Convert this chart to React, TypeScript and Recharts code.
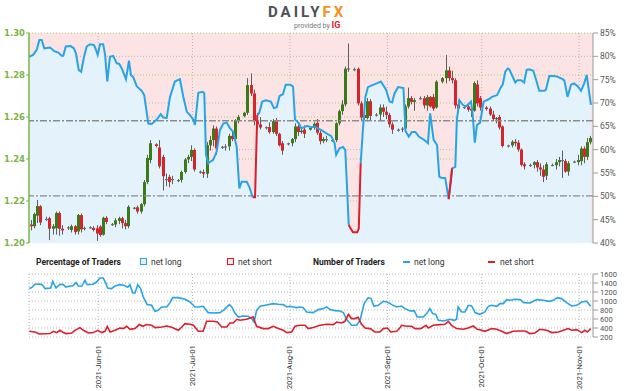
import React from 'react';
import { Area, Bar, CartesianGrid, ComposedChart, Line, ReferenceLine, XAxis, YAxis } from 'recharts';

const FONT = 'Roboto, "DejaVu Sans", sans-serif';

// day 0 = 2021-05-10
const monthDays = [22, 52, 83, 114, 144, 175];
const monthLabels = ['2021-Jun-01', '2021-Jul-01', '2021-Aug-01', '2021-Sep-01', '2021-Oct-01', '2021-Nov-01'];

const priceTicks = [1.2, 1.22, 1.24, 1.26, 1.28, 1.3];
const pctTicks = [40, 45, 50, 55, 60, 65, 70, 75, 80, 85];
const pctGrid = [50, 60, 70, 80];
const traderTicks = [200, 400, 600, 800, 1000, 1200, 1400, 1600];
const levelLines = [66.2, 50.1];

// daily candles, Sun-Fri (Saturday has none): open, high, low, close
const candles: [number, number, number, number][] = [
  [1.2125, 1.2135, 1.208, 1.2088], [1.2088, 1.211, 1.206, 1.208], [1.208, 1.2145, 1.207, 1.2138], [1.213, 1.2205, 1.2095, 1.2176], [1.2175, 1.218, 1.2085, 1.2098],
  [1.2115, 1.2125, 1.2105, 1.2112], [1.2118, 1.2125, 1.2014, 1.2068], [1.2068, 1.209, 1.204, 1.208], [1.207, 1.215, 1.204, 1.2143], [1.2143, 1.215, 1.2035, 1.2068], [1.2068, 1.2085, 1.204, 1.206],
  [1.207, 1.208, 1.2062, 1.2075], [1.2062, 1.2088, 1.205, 1.208], [1.208, 1.2085, 1.204, 1.2052], [1.2055, 1.2138, 1.204, 1.2133], [1.2133, 1.214, 1.205, 1.2065], [1.2068, 1.2078, 1.206, 1.2072],
  [1.2075, 1.208, 1.2068, 1.2072], [1.2072, 1.208, 1.2055, 1.2062], [1.207, 1.2085, 1.201, 1.2045], [1.2078, 1.2085, 1.203, 1.2038], [1.204, 1.2125, 1.2035, 1.212], [1.212, 1.2128, 1.209, 1.21],
  [1.209, 1.2095, 1.2082, 1.2088], [1.2088, 1.2118, 1.2075, 1.2108], [1.2105, 1.2125, 1.209, 1.2118], [1.2118, 1.2125, 1.207, 1.2095], [1.2095, 1.211, 1.2065, 1.208], [1.208, 1.218, 1.207, 1.2172],
  [1.2168, 1.2172, 1.216, 1.2165], [1.217, 1.2178, 1.214, 1.215], [1.215, 1.219, 1.214, 1.2185], [1.2185, 1.23, 1.2175, 1.229], [1.229, 1.242, 1.228, 1.2405], [1.2395, 1.249, 1.238, 1.2475],
  [1.247, 1.2475, 1.2455, 1.2462], [1.2455, 1.249, 1.2355, 1.2365], [1.241, 1.242, 1.225, 1.2318], [1.23, 1.233, 1.227, 1.2305], [1.2315, 1.2325, 1.2265, 1.229], [1.23, 1.232, 1.228, 1.2305],
  [1.2295, 1.2305, 1.229, 1.23], [1.23, 1.2345, 1.2288, 1.2338], [1.2338, 1.2405, 1.233, 1.2398], [1.2398, 1.242, 1.238, 1.241], [1.241, 1.2465, 1.239, 1.2443], [1.2443, 1.245, 1.234, 1.235],
  [1.234, 1.2345, 1.233, 1.2338], [1.2338, 1.235, 1.231, 1.233], [1.233, 1.248, 1.231, 1.2465], [1.2465, 1.251, 1.244, 1.249], [1.249, 1.256, 1.246, 1.2545], [1.2545, 1.2555, 1.242, 1.245],
  [1.2455, 1.2462, 1.2448, 1.2458], [1.2455, 1.247, 1.244, 1.246], [1.246, 1.252, 1.244, 1.251], [1.251, 1.253, 1.2485, 1.2495], [1.2495, 1.259, 1.248, 1.2585], [1.2585, 1.261, 1.257, 1.26],
  [1.2605, 1.2625, 1.2598, 1.262], [1.262, 1.2785, 1.261, 1.2752], [1.2752, 1.2808, 1.27, 1.2712], [1.2712, 1.273, 1.256, 1.258], [1.258, 1.262, 1.254, 1.2565], [1.2565, 1.26, 1.254, 1.255],
  [1.2548, 1.2555, 1.254, 1.2552], [1.2552, 1.2575, 1.252, 1.2528], [1.2528, 1.259, 1.252, 1.258], [1.258, 1.2595, 1.251, 1.252], [1.252, 1.2525, 1.246, 1.2465], [1.2475, 1.2485, 1.242, 1.244],
  [1.247, 1.2478, 1.2465, 1.2475], [1.2475, 1.25, 1.246, 1.2495], [1.2495, 1.257, 1.248, 1.2555], [1.2555, 1.2565, 1.251, 1.2528], [1.2528, 1.2545, 1.252, 1.2535], [1.254, 1.256, 1.25, 1.252],
  [1.254, 1.2555, 1.2535, 1.2548], [1.2548, 1.2575, 1.254, 1.2568], [1.2572, 1.259, 1.2515, 1.2525], [1.2525, 1.2535, 1.247, 1.2485], [1.2485, 1.2505, 1.2475, 1.2495], [1.2495, 1.251, 1.248, 1.249],
  [1.2488, 1.2495, 1.2482, 1.249], [1.249, 1.2575, 1.248, 1.257], [1.257, 1.2635, 1.256, 1.2628], [1.2628, 1.268, 1.261, 1.266], [1.266, 1.284, 1.265, 1.283], [1.2832, 1.295, 1.2815, 1.2828],
  [1.2828, 1.2835, 1.2818, 1.2825], [1.283, 1.2835, 1.2655, 1.2665], [1.2665, 1.2675, 1.2585, 1.2598], [1.261, 1.2625, 1.2585, 1.2595], [1.2595, 1.269, 1.2588, 1.2675], [1.2675, 1.2685, 1.2585, 1.2605],
  [1.261, 1.2618, 1.2602, 1.2612], [1.2612, 1.266, 1.258, 1.2645], [1.2645, 1.266, 1.26, 1.2625], [1.2625, 1.265, 1.259, 1.261], [1.261, 1.262, 1.255, 1.2565], [1.2565, 1.2575, 1.252, 1.254],
  [1.2535, 1.2545, 1.253, 1.254], [1.254, 1.2552, 1.2528, 1.2545], [1.2545, 1.266, 1.2535, 1.265], [1.265, 1.274, 1.264, 1.269], [1.269, 1.27, 1.266, 1.2672], [1.2672, 1.269, 1.263, 1.268],
  [1.269, 1.2698, 1.2682, 1.2688], [1.269, 1.27, 1.264, 1.2655], [1.2655, 1.2705, 1.263, 1.2695], [1.2695, 1.27, 1.2645, 1.265], [1.2695, 1.271, 1.263, 1.264], [1.2645, 1.2775, 1.264, 1.2768],
  [1.2768, 1.279, 1.276, 1.2785], [1.2785, 1.2896, 1.276, 1.2822], [1.2822, 1.284, 1.277, 1.2785], [1.2785, 1.282, 1.276, 1.2775], [1.2775, 1.2785, 1.264, 1.2655], [1.266, 1.268, 1.262, 1.264],
  [1.2645, 1.2652, 1.2638, 1.2648], [1.265, 1.266, 1.2625, 1.2635], [1.264, 1.2665, 1.26, 1.263], [1.263, 1.277, 1.2625, 1.2762], [1.2755, 1.2775, 1.265, 1.2665], [1.269, 1.27, 1.263, 1.2645],
  [1.2645, 1.2652, 1.263, 1.2638], [1.264, 1.265, 1.2605, 1.2612], [1.2612, 1.263, 1.258, 1.259], [1.259, 1.26, 1.257, 1.2595], [1.26, 1.261, 1.254, 1.255], [1.2555, 1.256, 1.2455, 1.2462],
  [1.246, 1.2468, 1.2455, 1.2465], [1.2465, 1.249, 1.2455, 1.2482], [1.2482, 1.2495, 1.246, 1.2475], [1.2478, 1.249, 1.2435, 1.2445], [1.2445, 1.245, 1.2365, 1.2372], [1.2375, 1.2385, 1.235, 1.2365],
  [1.237, 1.2378, 1.2362, 1.2372], [1.2372, 1.239, 1.2355, 1.2385], [1.2385, 1.2395, 1.234, 1.236], [1.236, 1.238, 1.232, 1.235], [1.235, 1.237, 1.229, 1.2315], [1.232, 1.2385, 1.23, 1.2375],
  [1.2372, 1.2378, 1.2365, 1.237], [1.237, 1.24, 1.235, 1.2385], [1.2385, 1.241, 1.2365, 1.2395], [1.2395, 1.244, 1.231, 1.239], [1.239, 1.24, 1.2335, 1.234], [1.234, 1.239, 1.232, 1.238],
  [1.2385, 1.2392, 1.238, 1.2388], [1.2385, 1.242, 1.237, 1.2395], [1.239, 1.246, 1.237, 1.245], [1.245, 1.246, 1.238, 1.241], [1.241, 1.25, 1.2395, 1.248], [1.248, 1.251, 1.247, 1.25],
];

// % of traders net long: [day, percent]
const sentiment: [number, number][] = [
  [0, 79.9], [1.3, 80.3], [2.45, 81.4], [3.3, 83.5], [4.05, 83.5], [4.85, 81.7], [5.6, 81.8], [6.7, 81.9], [8.05, 81.1], [9.3, 80.8],
  [10.4, 80.1], [10.9, 80.1], [11.7, 82.1], [13.25, 82.2], [14.3, 81.7], [14.95, 80.6], [15.8, 77.1], [16.6, 76.7], [17.5, 79.9], [18.35, 82.1],
  [19.4, 82.6], [20.7, 82.4], [21.3, 81.4], [21.85, 80.3], [22.6, 82.6], [23.6, 82.6], [24.2, 80.3], [24.9, 74.6], [25.75, 79.9], [26.8, 80.1],
  [27.9, 78.5], [28.7, 78.4], [29.5, 77.4], [30.85, 75.1], [31.8, 79.1], [32.4, 76.0], [33.2, 75.5], [34.25, 73.6], [35.85, 72.6], [36.65, 71.7],
  [37.95, 65.6], [39.0, 65.5], [40.6, 66.4], [41.9, 67.6], [42.7, 66.9], [43.8, 66.8], [44.85, 71.3], [46.4, 74.6], [48.0, 75.1], [49.1, 71.3],
  [50.2, 68.1], [51.2, 67.4], [52.3, 66.4], [52.8, 65.3], [53.85, 72.2], [55.25, 72.4], [55.75, 72.1], [56.3, 58.9], [57.0, 57.1], [58.6, 57.8],
  [59.7, 59.6], [60.75, 64.2], [61.8, 65.6], [62.9, 65.8], [63.9, 64.6], [65.0, 63.8], [66.05, 60.6], [66.9, 51.7], [67.65, 53.1], [69.25, 53.1],
  [70.05, 52.1], [71.15, 49.8], [71.9, 49.8], [72.6, 67.4], [73.2, 67.8], [74.2, 70.3], [75.3, 70.6], [76.9, 70.3], [77.9, 68.9], [78.8, 69.1],
  [79.7, 71.5], [80.8, 71.9], [81.65, 73.9], [83.25, 73.9], [84.0, 73.5], [84.6, 66.5], [85.9, 65.6], [86.6, 64.6], [87.5, 64.8], [88.5, 65.1],
  [89.6, 64.8], [90.9, 64.9], [93.0, 64.2], [94.6, 63.5], [96.15, 62.9], [97.2, 61.4], [97.7, 58.9], [98.8, 60.3], [99.9, 60.6], [100.6, 59.9],
  [101.2, 51.4], [101.7, 43.9], [102.0, 43.5], [103.05, 42.3], [104.4, 42.3], [104.9, 43.1], [105.5, 57.1], [106.2, 64.2], [107.0, 71.3], [107.8, 73.4],
  [109.4, 73.9], [111.0, 74.3], [111.9, 74.6], [112.6, 73.9], [113.6, 72.8], [114.7, 70.3], [115.5, 70.1], [116.3, 72.1], [117.4, 73.4], [119.1, 73.2],
  [119.75, 64.0], [120.8, 62.8], [121.8, 63.8], [122.9, 63.8], [124.0, 62.8], [125.0, 62.4], [126.05, 61.9], [126.9, 61.4], [127.6, 67.8], [128.7, 62.1],
  [129.8, 61.0], [130.5, 54.2], [131.1, 54.0], [132.4, 53.9], [133.5, 49.4], [134.6, 56.0], [135.6, 56.3], [136.1, 66.4], [136.9, 70.6], [137.7, 69.8],
  [138.8, 69.2], [139.85, 69.8], [140.6, 70.3], [141.1, 67.8], [141.8, 61.5], [142.5, 65.3], [143.5, 65.8], [144.6, 70.3], [146.2, 70.8], [147.3, 71.3],
  [148.9, 71.7], [149.9, 73.1], [150.7, 74.0], [151.5, 76.7], [152.3, 77.4], [152.8, 77.2], [153.6, 76.0], [154.7, 74.4], [155.4, 74.9], [156.5, 74.9],
  [157.5, 74.4], [158.3, 77.1], [159.1, 77.2], [160.4, 76.9], [161.25, 75.1], [162.3, 72.6], [163.9, 72.6], [164.4, 72.8], [165.5, 75.8], [167.1, 75.8],
  [168.2, 75.6], [169.75, 75.1], [170.3, 74.8], [170.8, 73.1], [171.3, 71.3], [172.4, 73.9], [173.4, 74.2], [174.5, 73.6], [175.6, 72.6], [176.6, 74.2],
  [177.4, 76.0], [178.0, 73.1], [178.75, 69.6],
];

// stretches where the line is drawn in red: [from day, to day]
const redRuns: [number, number][] = [[71.15, 72.6], [101.7, 105.5], [133.5, 134.6]];

// number of traders: [day, count]
const longTraders: [number, number][] = [
  [0.1, 1276], [0.86, 1298], [1.9, 1371], [3.5, 1378], [4.36, 1349], [5.1, 1276], [6.9, 1289], [7.54, 1438], [8.6, 1289], [9.86, 1371],
  [10.9, 1364], [11.77, 1311], [13.0, 1333], [13.9, 1333], [14.95, 1409], [15.7, 1333], [16.76, 1327], [17.8, 1460], [18.5, 1364], [20.3, 1371],
  [21.5, 1422], [22.6, 1511], [23.6, 1511], [24.5, 1387], [25.0, 1289], [26.3, 1276], [27.35, 1333], [28.9, 1364], [30.2, 1349], [31.4, 1304],
  [32.1, 1364], [33.0, 1178], [33.7, 1178], [34.6, 1364], [35.5, 1276], [36.35, 1089], [37.6, 920], [39.0, 904], [40.1, 771], [41.1, 793],
  [42.2, 867], [43.8, 867], [44.85, 964], [45.7, 1075], [47.5, 1075], [49.6, 1038], [51.2, 978], [52.8, 867], [53.85, 867], [55.4, 882],
  [57.0, 742], [58.6, 733], [60.75, 742], [62.1, 809], [63.7, 920], [64.5, 867], [65.5, 733], [66.6, 644], [68.0, 667], [69.75, 660],
  [70.8, 609], [71.6, 533], [72.4, 793], [73.5, 882], [75.1, 904], [77.7, 942], [79.3, 927], [80.9, 920], [82.0, 867], [83.0, 882],
  [84.1, 867], [85.1, 853], [86.2, 867], [87.2, 853], [88.3, 756], [90.4, 742], [92.0, 809], [93.6, 831], [94.7, 867], [95.7, 809],
  [97.3, 787], [98.9, 778], [100.0, 742], [101.0, 593], [102.6, 460], [104.2, 460], [105.3, 571], [106.6, 942], [107.9, 1075], [108.8, 1053],
  [109.7, 889], [111.1, 904], [112.7, 993], [114.0, 978], [115.4, 920], [116.95, 867], [118.5, 889], [119.6, 831], [121.2, 778], [122.55, 787],
  [123.5, 644], [125.4, 644], [126.5, 720], [127.5, 831], [128.4, 720], [129.4, 704], [130.2, 571], [131.8, 556], [133.9, 593], [135.3, 571],
  [136.0, 593], [136.5, 867], [137.6, 756], [138.7, 756], [139.7, 904], [140.8, 889], [141.9, 742], [143.4, 704], [145.0, 756], [146.1, 882],
  [147.2, 904], [148.8, 882], [149.8, 942], [150.9, 942], [151.9, 1031], [153.0, 1016], [154.6, 1038], [156.2, 1031], [157.4, 964], [159.35, 956],
  [160.4, 993], [161.5, 1031], [163.6, 1016], [165.5, 993], [166.8, 1016], [168.0, 1075], [169.4, 1053], [171.0, 964], [172.6, 889], [174.2, 904],
  [175.8, 978], [177.4, 993], [178.65, 882],
];

const shortTraders: [number, number][] = [
  [0.1, 327], [1.9, 311], [3.3, 267], [6.7, 276], [7.7, 327], [8.8, 298], [9.86, 349], [10.9, 298], [11.8, 276], [13.6, 289],
  [14.6, 349], [16.2, 409], [17.3, 349], [18.9, 289], [20.45, 298], [21.85, 349], [23.1, 298], [24.2, 327], [24.9, 438], [25.8, 311],
  [27.35, 349], [28.9, 400], [30.0, 387], [31.1, 438], [32.1, 371], [33.7, 387], [35.1, 476], [36.2, 438], [37.4, 476], [39.0, 460],
  [40.1, 409], [42.2, 422], [43.8, 444], [45.4, 416], [47.5, 349], [48.6, 422], [49.6, 498], [51.2, 482], [52.3, 460], [53.85, 327],
  [55.4, 327], [56.5, 549], [58.6, 549], [59.9, 533], [61.3, 422], [62.9, 422], [63.9, 511], [65.0, 511], [66.1, 593], [67.1, 571],
  [69.2, 593], [71.3, 644], [72.4, 438], [74.5, 387], [76.1, 387], [77.7, 438], [79.3, 387], [80.9, 349], [82.0, 298], [83.55, 311],
  [84.6, 438], [86.2, 460], [87.8, 460], [88.8, 387], [90.4, 409], [92.6, 460], [94.7, 482], [96.8, 476], [97.9, 533], [99.5, 511],
  [100.5, 549], [101.6, 704], [102.6, 609], [103.7, 609], [104.7, 638], [105.6, 498], [106.9, 400], [108.5, 387], [110.05, 311], [111.6, 311],
  [112.7, 387], [114.0, 400], [115.05, 311], [116.95, 327], [117.8, 387], [118.5, 460], [120.1, 438], [121.7, 438], [122.8, 387], [124.6, 387],
  [126.3, 460], [127.0, 400], [128.6, 460], [130.7, 476], [132.3, 482], [133.4, 549], [134.4, 460], [136.0, 387], [138.1, 371], [139.7, 400],
  [141.3, 444], [142.6, 371], [144.0, 349], [145.0, 327], [147.2, 387], [148.8, 371], [150.35, 327], [151.9, 276], [154.0, 327], [155.6, 333],
  [157.8, 333], [159.35, 276], [160.9, 289], [162.5, 371], [164.7, 349], [166.25, 298], [168.4, 311], [170.0, 349], [171.5, 387], [172.6, 349],
  [174.2, 364], [175.8, 298], [176.8, 349], [177.6, 311], [178.65, 387],
];

// trading days (no Saturday candle), candle stamped half a day early
const candleDays = Array.from({ length: 180 }, (_, d) => d).filter((d) => d % 7 !== 5);
const candleData = candles.map(([open, high, low, close], i) => ({ t: candleDays[i] - 0.5, open, high, low, close }));

const areaData = sentiment.map(([t, v]) => ({ t, v }));
const blueData = sentiment.map(([t, v]) => ({ t, v: redRuns.some(([a, b]) => t > a && t < b) ? null : v }));
const redData = sentiment.map(([t, v]) => ({ t, v: redRuns.some(([a, b]) => t >= a && t <= b) ? v : null }));
const longData = longTraders.map(([t, v]) => ({ t, v }));
const shortData = shortTraders.map(([t, v]) => ({ t, v }));

const X_DOMAIN: [number, number] = [0, 179.4];
const BLUE = '#27a4e6';
const RED = '#dc1f2a';

const Candle = (props: any) => {
  const { x, y, width, height, payload } = props;
  if (!payload || y == null || height == null) return null;
  const top = Math.min(y, y + height);
  const bot = Math.max(y, y + height);
  const { open, high, low, close } = payload;
  const span = high - low || 1;
  const py = (v: number) => top + ((high - v) / span) * (bot - top);
  const flat = Math.abs(close - open) < 0.0005;
  const color = flat ? '#6f6f6f' : close > open ? '#3b7a18' : '#d9232b';
  const cx = Math.round(x + (width || 0) / 2) + 0.5;
  const bTop = py(Math.max(open, close));
  const bBot = py(Math.min(open, close));
  return (
    <g>
      <line x1={cx} x2={cx} y1={top} y2={bot} stroke="#5f5f5f" strokeWidth={1} />
      <rect x={cx - 1.5} y={bTop} width={3} height={Math.max(1.2, bBot - bTop)} fill={color} />
    </g>
  );
};

const DateTick = (props: any) => {
  const { x, y, payload } = props;
  const label = monthLabels[monthDays.indexOf(payload.value)];
  return (
    <text x={x} y={y} transform={`rotate(-90 ${x} ${y})`} textAnchor="end" dominantBaseline="central" fontSize={7.8} fill="#333" fontFamily={FONT}>
      {label}
    </text>
  );
};

const legendText: React.CSSProperties = { position: 'absolute', top: 257, fontSize: 8.5, color: '#333', lineHeight: '10px' };

export default function App() {
  return (
    <div style={{ position: 'absolute', left: 0, top: 0, width: 624, height: 391, background: '#fff', fontFamily: FONT, overflow: 'hidden' }}>
      <div style={{ position: 'absolute', left: 268, top: 3, fontSize: 15, fontWeight: 700, letterSpacing: 3, lineHeight: '18px' }}>
        <span style={{ color: '#4d5157' }}>DAILY</span>
        <span style={{ color: '#f5901e' }}>FX</span>
      </div>
      <div style={{ position: 'absolute', left: 294, top: 20, fontSize: 7, color: '#777', lineHeight: '10px' }}>
        provided by <span style={{ color: '#e2202d', fontWeight: 700, fontSize: 9 }}>IG</span>
      </div>

      <div style={{ position: 'absolute', left: 0, top: 0 }}>
        <ComposedChart width={624} height={250} data={candleData} margin={{ top: 33, right: 0, bottom: 7, left: 0 }}>
          <CartesianGrid yAxisId="pct" horizontal={false} vertical={false} fill="#fce4e4" stroke="none" />
          <XAxis dataKey="t" type="number" domain={X_DOMAIN} ticks={monthDays} allowDataOverflow hide />
          <YAxis
            yAxisId="price"
            orientation="left"
            width={29}
            type="number"
            domain={[1.2, 1.3]}
            ticks={priceTicks}
            tickFormatter={(v: number) => v.toFixed(2)}
            tick={{ fill: '#7bb445', fontSize: 8.5, fontWeight: 700, fontFamily: '"DejaVu Sans", sans-serif' }}
            axisLine={{ stroke: '#7bb445', strokeWidth: 1.5 }}
            tickLine={{ stroke: '#7bb445' }}
            tickSize={3}
            tickMargin={1}
          />
          <YAxis
            yAxisId="pct"
            orientation="right"
            width={31}
            type="number"
            domain={[40, 85]}
            ticks={pctTicks}
            tickFormatter={(v: number) => `${v}%`}
            tick={{ fill: '#555', fontSize: 8.5 }}
            axisLine={{ stroke: '#999' }}
            tickLine={{ stroke: '#999' }}
            tickSize={5}
            tickMargin={2}
          />
          <Area data={areaData} yAxisId="pct" dataKey="v" type="linear" baseValue={40} fill="#e3f2fb" fillOpacity={1} stroke="none" isAnimationActive={false} />
          <CartesianGrid yAxisId="pct" horizontalValues={pctGrid} verticalValues={monthDays} stroke="#b8b8b8" strokeDasharray="1 2" />
          <CartesianGrid yAxisId="price" vertical={false} horizontalValues={priceTicks} stroke="#9ccf6e" strokeDasharray="1 2" />
          {levelLines.map((v) => (
            <ReferenceLine key={v} yAxisId="pct" y={v} stroke="#8c8c8c" strokeWidth={1.4} strokeDasharray="7 2 2 2" />
          ))}
          <Bar yAxisId="price" dataKey={(e: any) => [e.low, e.high]} barSize={3} shape={Candle} isAnimationActive={false} />
          <Line data={blueData} yAxisId="pct" dataKey="v" type="linear" stroke={BLUE} strokeWidth={2} dot={false} activeDot={false} isAnimationActive={false} />
          <Line data={redData} yAxisId="pct" dataKey="v" type="linear" stroke={RED} strokeWidth={2} dot={false} activeDot={false} isAnimationActive={false} />
        </ComposedChart>
      </div>

      <div style={{ ...legendText, left: 36, fontWeight: 700, color: '#222' }}>Percentage of Traders</div>
      <div style={{ position: 'absolute', left: 140, top: 258, width: 5, height: 5, border: `1.5px solid ${BLUE}`, background: '#e3f2fb' }} />
      <div style={{ ...legendText, left: 151 }}>net long</div>
      <div style={{ position: 'absolute', left: 227, top: 258, width: 5, height: 5, border: `1.5px solid ${RED}`, background: '#fce4e4' }} />
      <div style={{ ...legendText, left: 238 }}>net short</div>
      <div style={{ ...legendText, left: 313, fontWeight: 700, color: '#222' }}>Number of Traders</div>
      <div style={{ position: 'absolute', left: 403, top: 261, width: 7, height: 2, background: BLUE }} />
      <div style={{ ...legendText, left: 414 }}>net long</div>
      <div style={{ position: 'absolute', left: 488, top: 261, width: 7, height: 2, background: RED }} />
      <div style={{ ...legendText, left: 500 }}>net short</div>

      <div style={{ position: 'absolute', left: 0, top: 250 }}>
        <ComposedChart width={624} height={141} margin={{ top: 24, right: 0, bottom: 0, left: 29 }}>
          <CartesianGrid yAxisId="n" horizontalValues={traderTicks} verticalValues={[0, ...monthDays]} stroke="#b8b8b8" strokeDasharray="1 2" />
          <XAxis
            dataKey="t"
            type="number"
            domain={X_DOMAIN}
            ticks={monthDays}
            allowDataOverflow
            height={54}
            axisLine={false}
            tickLine={false}
            tick={DateTick}
            interval={0}
          />
          <YAxis
            yAxisId="n"
            orientation="right"
            width={31}
            type="number"
            domain={[200, 1600]}
            ticks={traderTicks}
            tick={{ fill: '#555', fontSize: 7.5 }}
            axisLine={{ stroke: '#999' }}
            tickLine={{ stroke: '#999' }}
            tickSize={5}
            tickMargin={2}
            interval={0}
          />
          <Line data={longData} yAxisId="n" dataKey="v" type="linear" stroke={BLUE} strokeWidth={1.6} dot={false} activeDot={false} isAnimationActive={false} />
          <Line data={shortData} yAxisId="n" dataKey="v" type="linear" stroke={RED} strokeWidth={1.6} dot={false} activeDot={false} isAnimationActive={false} />
        </ComposedChart>
      </div>
    </div>
  );
}
